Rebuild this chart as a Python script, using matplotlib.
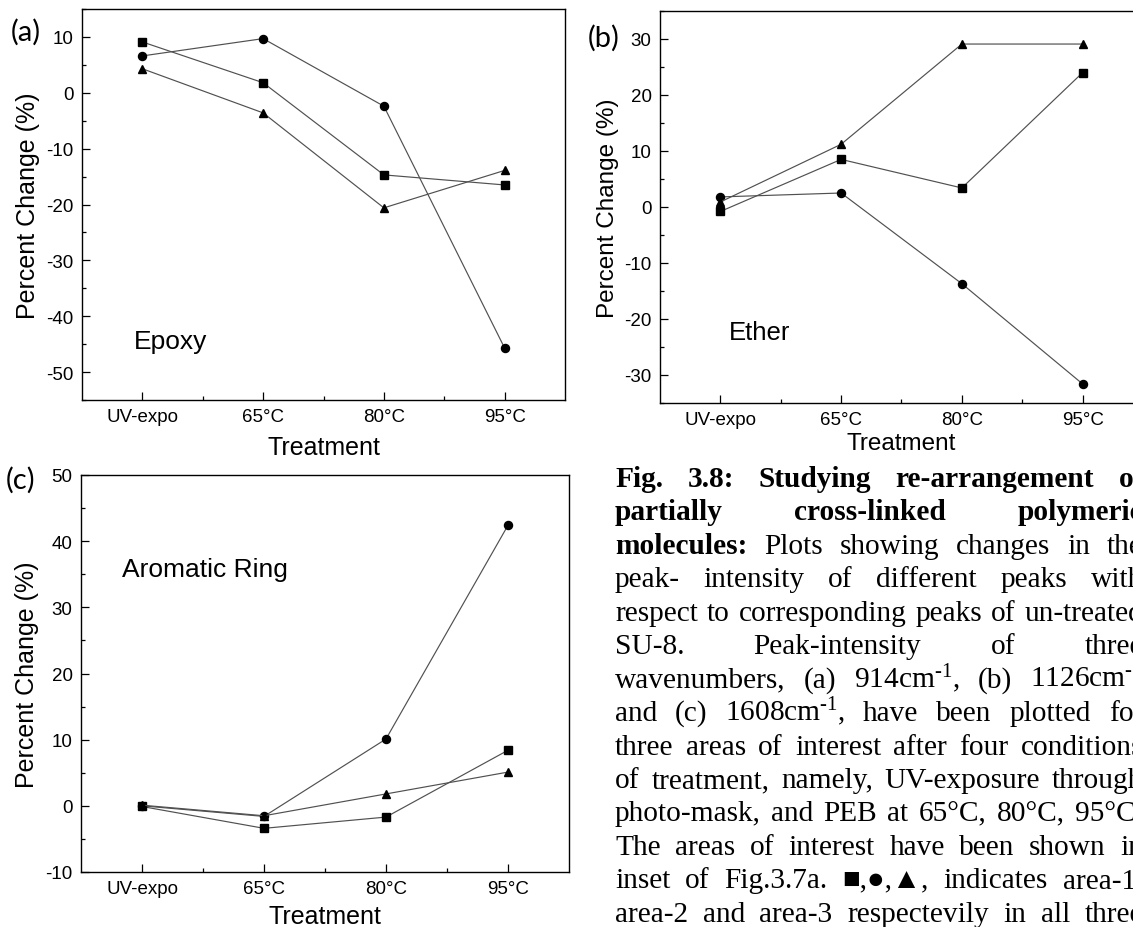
import matplotlib
matplotlib.use("Agg")
import matplotlib.pyplot as plt
from matplotlib.ticker import MultipleLocator, FixedLocator

W, H = 1133, 928

plt.rcParams['font.family'] = ['Liberation Sans', 'DejaVu Sans']
plt.rcParams['axes.unicode_minus'] = False
plt.rcParams['mathtext.fontset'] = 'custom'
plt.rcParams['mathtext.rm'] = 'Liberation Serif'
plt.rcParams['mathtext.it'] = 'Liberation Serif:italic'

treatments = ["UV-expo", "65°C", "80°C", "95°C"]
x = [1, 2, 3, 4]

# (a) Epoxy, 914 cm-1
epoxy_area1 = [9.1, 1.8, -14.7, -16.5]
epoxy_area2 = [6.6, 9.7, -2.4, -45.7]
epoxy_area3 = [4.3, -3.6, -20.6, -13.9]

# (b) Ether, 1126 cm-1
ether_area1 = [-0.8, 8.5, 3.4, 24.0]
ether_area2 = [1.8, 2.5, -13.7, -31.6]
ether_area3 = [0.9, 11.2, 29.1, 29.1]

# (c) Aromatic ring, 1608 cm-1
arom_area1 = [-0.1, -3.4, -1.7, 8.4]
arom_area2 = [0.0, -1.6, 10.1, 42.4]
arom_area3 = [0.1, -1.5, 1.8, 5.1]

# caption: (number of leading bold words, text)
caption_lines = [
    (5, "Fig. 3.8: Studying re-arrangement of"),
    (3, "partially cross-linked polymeric"),
    (1, "molecules: Plots showing changes in the"),
    (0, "peak- intensity of different peaks with"),
    (0, "respect to corresponding peaks of un-treated"),
    (0, "SU-8. Peak-intensity of three"),
    (0, r"wavenumbers, (a) 914cm$^{\text{-1}}$, (b) 1126cm$^{\text{-1}}$"),
    (0, r"and (c) 1608cm$^{\text{-1}}$, have been plotted for"),
    (0, "three areas of interest after four conditions"),
    (0, "of treatment, namely, UV-exposure through"),
    (0, "photo-mask, and PEB at 65°C, 80°C, 95°C."),
    (0, "The areas of interest have been shown in"),
    (0, "inset of Fig.3.7a. ■,●,▲, indicates area-1,"),
    (0, "area-2 and area-3 respectevily in all three"),
]


def fx(px):
    return px / W


def fy(py):
    return 1 - py / H


def add_panel(left, top, right, bottom):
    return fig.add_axes([fx(left), fy(bottom), (right - left) / W, (bottom - top) / H])


def draw_series(ax, sq, ci, tr):
    line = dict(color='#505050', linewidth=0.85, markeredgecolor='black',
                markerfacecolor='black')
    ax.plot(x, sq, marker='s', markersize=5.3, **line)
    ax.plot(x, ci, marker='o', markersize=5.8, **line)
    ax.plot(x, tr, marker='^', markersize=6.3, **line)


def style_axes(ax, ylim, label_size, xlab_y, ylab_x):
    ax.set_xlim(0.5, 4.5)
    ax.set_ylim(*ylim)
    ax.set_xticks(x)
    ax.set_xticklabels(treatments)
    ax.xaxis.set_minor_locator(FixedLocator([1.5, 2.5, 3.5]))
    ax.yaxis.set_major_locator(MultipleLocator(10))
    ax.yaxis.set_minor_locator(MultipleLocator(5))
    ax.tick_params(which='both', direction='in', top=False, right=False, width=0.9)
    ax.tick_params(which='major', length=5.5, labelsize=13.5, pad=6)
    ax.tick_params(which='minor', length=3.2)
    for s in ax.spines.values():
        s.set_linewidth(1.0)
    ax.set_xlabel("Treatment", fontsize=label_size)
    ax.set_ylabel("Percent Change (%)", fontsize=label_size)
    ax.xaxis.set_label_coords(0.5, xlab_y)
    ax.yaxis.set_label_coords(ylab_x, 0.5)


fig = plt.figure(figsize=(W / 100, H / 100), dpi=100)

ax_a = add_panel(82, 10, 565, 401)
draw_series(ax_a, epoxy_area1, epoxy_area2, epoxy_area3)
style_axes(ax_a, (-55, 15), 18, -0.09, -0.087)

ax_b = add_panel(660, 12, 1143, 404)
draw_series(ax_b, ether_area1, ether_area2, ether_area3)
style_axes(ax_b, (-35, 35), 17.5, -0.073, -0.085)

ax_c = add_panel(81, 476, 569, 873)
draw_series(ax_c, arom_area1, arom_area2, arom_area3)
style_axes(ax_c, (-10, 50), 18, -0.081, -0.087)

# panel letters and group names
fig.text(fx(26), fy(32), "(a)", family='Lato', fontsize=21, ha='center', va='center')
fig.text(fx(604), fy(38), "(b)", family='Lato', fontsize=21, ha='center', va='center')
fig.text(fx(21), fy(480), "(c)", family='Lato', fontsize=21, ha='center', va='center')
fig.text(fx(134), fy(342), "Epoxy", fontsize=19, va='center')
fig.text(fx(729), fy(333), "Ether", fontsize=18.5, va='center')
fig.text(fx(122), fy(570), "Aromatic Ring", fontsize=19, va='center')

# justified caption, one word at a time
renderer = fig.canvas.get_renderer()
cap_left, cap_right = 615, 1143
base0, step = 487, 33.45
for i, (n_bold, line_text) in enumerate(caption_lines):
    words = line_text.split(" ")
    texts = []
    for j, w in enumerate(words):
        t = fig.text(0, fy(base0 + i * step), w, fontsize=21.2, va='baseline',
                     family=['Liberation Serif', 'DejaVu Sans'],
                     weight='bold' if j < n_bold else 'normal')
        texts.append(t)
    widths = [t.get_window_extent(renderer).width for t in texts]
    gap = (cap_right - cap_left - sum(widths)) / max(len(words) - 1, 1)
    xpos = cap_left
    for t, wdt in zip(texts, widths):
        t.set_x(fx(xpos))
        xpos += wdt + gap

fig.savefig("out.png", dpi=100)
